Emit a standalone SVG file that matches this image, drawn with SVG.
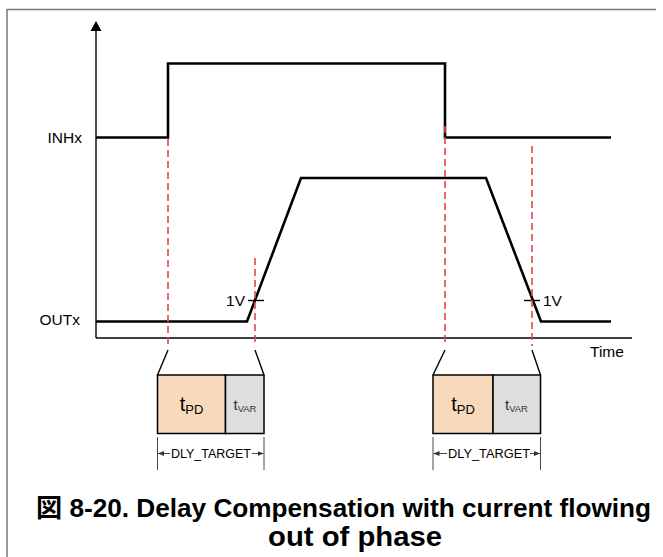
<svg xmlns="http://www.w3.org/2000/svg" width="663" height="557" viewBox="0 0 663 557">
<style>
.frame{stroke:#777;stroke-width:1.5;fill:none}
.axis{stroke:#000;stroke-width:1.4;fill:none}
.sig{stroke:#000;stroke-width:2.6;fill:none;stroke-linejoin:miter}
.red{stroke:#e0474c;stroke-width:1.6;stroke-dasharray:7,4;fill:none}
.thin{stroke:#000;stroke-width:1.4;fill:none}
.box{stroke:#000;stroke-width:1.5}
.dim{stroke:#333;stroke-width:0.9;fill:none}
.lbl{font-family:"Liberation Sans",Arial,sans-serif;font-size:15.5px;fill:#000}
.dl{font-family:"Liberation Sans",Arial,sans-serif;font-size:12px;fill:#000}
.cap{font-family:"Liberation Sans","Noto Sans CJK JP",sans-serif;font-weight:bold;fill:#000}
</style>
<defs>
<marker id="ah" viewBox="0 0 10 10" refX="10" refY="5" markerWidth="6" markerHeight="6" orient="auto-start-reverse" markerUnits="userSpaceOnUse">
<path d="M0,1 L10,5 L0,9 z" fill="#333"/>
</marker>
</defs>
<g id="frame">
<line class="frame" x1="7" y1="9.5" x2="656" y2="9.5"/>
<line class="frame" x1="7" y1="9" x2="7" y2="557"/>
</g>
<g id="axes">
<line class="axis" x1="96" y1="30" x2="96" y2="338"/>
<path d="M90.5,31 L96,21 L101.5,31 z" fill="#000"/>
<line class="axis" x1="96" y1="338" x2="632" y2="338"/>
<text class="lbl" x="590" y="357">Time</text>
</g>
<g id="INHx">
<text class="lbl" x="82" y="143" text-anchor="end">INHx</text>
<polyline class="sig" points="96,137.5 168,137.5 168,63.5 445,63.5 445,137.5 611,137.5"/>
</g>
<g id="OUTx">
<text class="lbl" x="80" y="325" text-anchor="end">OUTx</text>
<polyline class="sig" points="96,321.5 247,321.5 301,178 486,178 541,321.5 611,321.5"/>
</g>
<g id="markers-1V">
<line class="thin" x1="248" y1="300.5" x2="264" y2="300.5"/>
<text class="lbl" x="245" y="306" text-anchor="end">1V</text>
<line class="thin" x1="524" y1="300.5" x2="540" y2="300.5"/>
<text class="lbl" x="543" y="306">1V</text>
</g>
<g id="connectors">
<line class="red" x1="168" y1="139" x2="168" y2="346"/>
<line class="red" x1="255" y1="258" x2="255" y2="346"/>
<line class="red" x1="445" y1="126" x2="445" y2="346"/>
<line class="red" x1="532" y1="146" x2="532" y2="346"/>
<line class="thin" x1="168" y1="350" x2="157.5" y2="375"/>
<line class="thin" x1="255" y1="350" x2="264" y2="375"/>
<line class="thin" x1="445" y1="350" x2="433" y2="375"/>
<line class="thin" x1="532" y1="350" x2="540.5" y2="375"/>
</g>
<g id="box1">
<rect class="box" x="157.5" y="375" width="68" height="58.5" fill="#f9d9bc"/>
<rect class="box" x="225.5" y="375" width="38.5" height="58.5" fill="#dedede"/>
<text font-family="Liberation Sans,Arial,sans-serif" x="191.5" y="411" text-anchor="middle"><tspan font-size="20">t</tspan><tspan font-size="13" dy="3">PD</tspan></text>
<text font-family="Liberation Sans,Arial,sans-serif" fill="#333" x="245" y="410" text-anchor="middle"><tspan font-size="15">t</tspan><tspan font-size="9.5" dy="2">VAR</tspan></text>
</g>
<g id="box2">
<rect class="box" x="433" y="375" width="60" height="58.5" fill="#f9d9bc"/>
<rect class="box" x="493" y="375" width="47.5" height="58.5" fill="#dedede"/>
<text font-family="Liberation Sans,Arial,sans-serif" x="463" y="411" text-anchor="middle"><tspan font-size="20">t</tspan><tspan font-size="13" dy="3">PD</tspan></text>
<text font-family="Liberation Sans,Arial,sans-serif" fill="#333" x="516.5" y="410" text-anchor="middle"><tspan font-size="15">t</tspan><tspan font-size="9.5" dy="2">VAR</tspan></text>
</g>
<g id="dim1">
<line class="dim" x1="157.5" y1="437" x2="157.5" y2="470"/>
<line class="dim" x1="264" y1="437" x2="264" y2="470"/>
<line class="dim" x1="170" y1="453.5" x2="158" y2="453.5" marker-end="url(#ah)"/>
<line class="dim" x1="252" y1="453.5" x2="263.5" y2="453.5" marker-end="url(#ah)"/>
<text class="dl" x="211" y="458" text-anchor="middle" textLength="80" lengthAdjust="spacingAndGlyphs">DLY_TARGET</text>
</g>
<g id="dim2">
<line class="dim" x1="433" y1="437" x2="433" y2="470"/>
<line class="dim" x1="540.5" y1="437" x2="540.5" y2="470"/>
<line class="dim" x1="447" y1="453.5" x2="433.5" y2="453.5" marker-end="url(#ah)"/>
<line class="dim" x1="530" y1="453.5" x2="540" y2="453.5" marker-end="url(#ah)"/>
<text class="dl" x="489" y="458" text-anchor="middle" textLength="82" lengthAdjust="spacingAndGlyphs">DLY_TARGET</text>
</g>
<g id="caption">
<text class="cap" font-size="26" x="36" y="517" textLength="615" lengthAdjust="spacingAndGlyphs">図 8-20. Delay Compensation with current flowing</text>
<text class="cap" font-size="28" x="355" y="546" text-anchor="middle" textLength="174" lengthAdjust="spacingAndGlyphs">out of phase</text>
</g>
</svg>
